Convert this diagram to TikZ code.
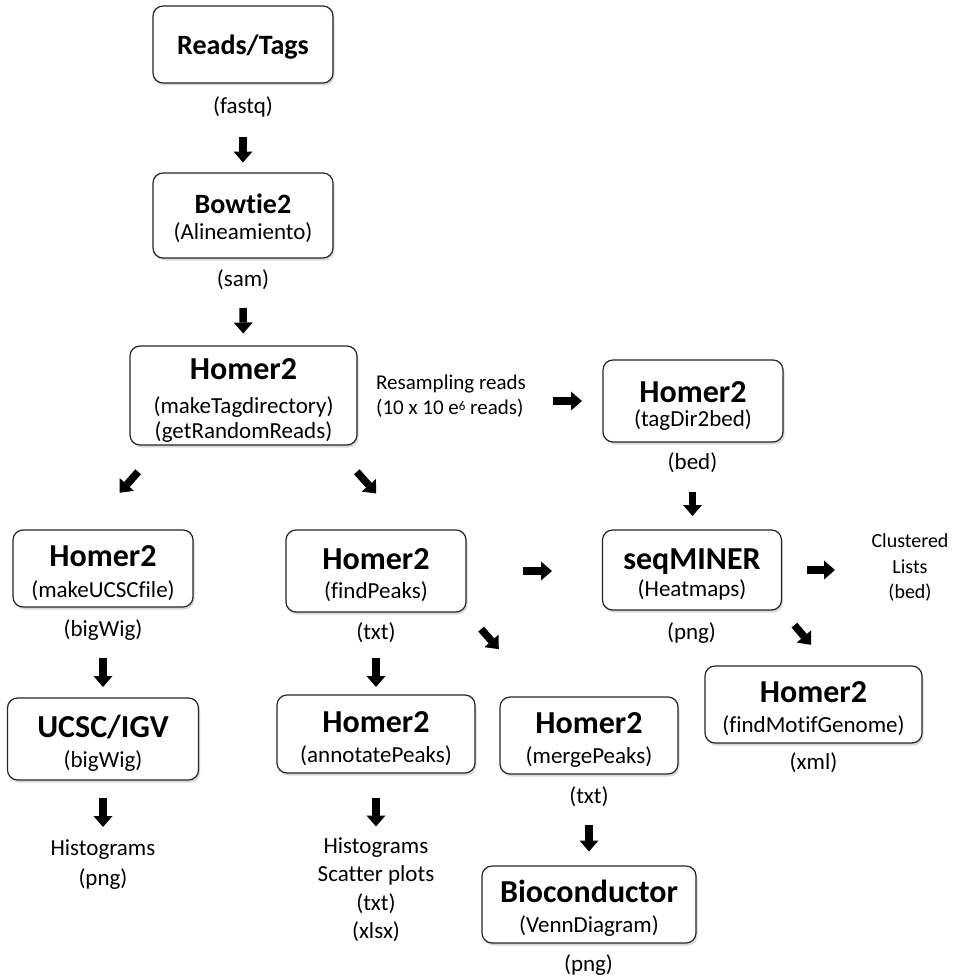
\documentclass[tikz,border=0pt]{standalone}
\usepackage{fontspec}
\setmainfont{Carlito}[Ligatures={NoCommon}]
\usetikzlibrary{arrows.meta, shadows}
\newcommand{\tooltitle}[1]{{\fontsize{32}{34}\selectfont\bfseries\rule{0pt}{30pt}#1}}
\newcommand{\inputtitle}[1]{{\fontsize{28}{30}\selectfont\bfseries\rule{0pt}{25pt}#1}}

\begin{document}
\begin{tikzpicture}[
    x=1pt, y=-1pt,
    % GLOBAL CFG
    font=\fontsize{23}{25}\selectfont,
    % Styles
    tool/.style={% rounded box for every program
        rectangle,
        rounded corners=10pt,
        draw=black!85,
        line width=1.2pt,
        fill=white,
        align=center,
        inner sep=0pt,
        drop shadow={shadow xshift=1.5pt, shadow yshift=-2.5pt, opacity=.3},
        },
    fmt/.style={% file formats and outputs, no frame
        align=center,
        inner sep=1pt,
        },
    flow/.style={% short fat arrows
        line width=7.5pt,
        -{Triangle[length=11pt, width=19pt, line width=0pt]},
        },
    ]
    \useasboundingbox (0,0) rectangle (955,979);

    % Reads and alignment
    \node[tool, minimum width=180pt, minimum height=77pt] (reads) at (243,44.5) {\inputtitle{Reads/Tags}};
    \node[fmt] (fastq) at (243,107) {(fastq)};
    \node[tool, minimum width=180pt, minimum height=85pt] (bowtie) at (243,215.5) {\inputtitle{Bowtie2}\\[1pt](Alineamiento)};
    \node[fmt] (sam) at (243,280) {(sam)};

    % Tag directory
    \node[tool, minimum width=227pt, minimum height=99pt] (homer) at (243.5,395.5) {\tooltitle{Homer2}\\[9pt](makeTagdirectory)\\(getRandomReads)};
    \node[fmt, align=left, font=\fontsize{21}{25}\selectfont] (resample) at (451,396) {Resampling reads\\(10 x 10 e{\raisebox{4pt}{\fontsize{13}{13}\selectfont 6}} reads)};

    % Right branch
    \node[tool, minimum width=180pt, minimum height=82pt] (tagdir) at (693,401) {\tooltitle{Homer2}\\[-1pt](tagDir2bed)};
    \node[fmt] (bed1) at (692.5,463) {(bed)};
    \node[tool, minimum width=179pt, minimum height=80pt] (seqminer) at (692,570) {\tooltitle{seqMINER}\\[2pt](Heatmaps)};
    \node[fmt] (png1) at (691.5,633) {(png)};
    \node[fmt, font=\fontsize{20}{25.5}\selectfont] (clustered) at (910,567.5) {Clustered\\Lists\\(bed)};
    \node[tool, minimum width=217pt, minimum height=77pt] (findmotif) at (813.5,704.5) {\tooltitle{Homer2}\\[5pt](findMotifGenome)};
    \node[fmt] (xml) at (813.5,763) {(xml)};

    % Left branch
    \node[tool, minimum width=180pt, minimum height=77pt] (ucscfile) at (103,568.5) {\tooltitle{Homer2}\\[6pt](makeUCSCfile)};
    \node[fmt] (bigwig1) at (103,630) {(bigWig)};
    \node[tool, minimum width=191pt, minimum height=82pt] (ucscigv) at (103,739) {\tooltitle{UCSC/IGV}\\[5pt](bigWig)};
    \node[fmt, font=\fontsize{23}{30}\selectfont] (histo1) at (103,865) {Histograms\\(png)};

    % Peaks
    \node[tool, minimum width=180pt, minimum height=82pt] (findpeaks) at (376,571) {\tooltitle{Homer2}\\[4pt](findPeaks)};
    \node[fmt] (txt1) at (376,633) {(txt)};
    \node[tool, minimum width=198pt, minimum height=78pt] (annotate) at (376,734) {\tooltitle{Homer2}\\[5pt](annotatePeaks)};
    \node[fmt, font=\fontsize{23}{28.5}\selectfont] (histo2) at (376,889.5) {Histograms\\Scatter plots\\(txt)\\(xlsx)};
    \node[tool, minimum width=178pt, minimum height=77pt] (mergepeaks) at (589,735.5) {\tooltitle{Homer2}\\[5pt](mergePeaks)};
    \node[fmt] (txt2) at (589,797) {(txt)};
    \node[tool, minimum width=214pt, minimum height=77pt] (bioc) at (589,904.5) {\tooltitle{Bioconductor}\\[5pt](VennDiagram)};
    \node[fmt] (png2) at (588.5,965) {(png)};

    % Arrows down the middle
    \draw[flow, shorten <=30pt, shorten >=53pt] (fastq.center) -- (bowtie.center);
    \draw[flow, shorten <=28pt, shorten >=62pt] (sam.center) -- (homer.center);
    \draw[flow, shorten <=102pt, shorten >=111pt] (resample.center |- tagdir.center) -- (tagdir.center);
    \draw[flow, shorten <=29pt, shorten >=54pt] (bed1.center) -- (bed1.center |- seqminer.center);
    \draw[flow, shorten <=115pt, shorten >=75pt] (seqminer.center) -- (seqminer.center -| clustered.center);
    \draw[flow, shorten <=19pt, shorten >=27pt] (seqminer.south east) -- ([xshift=15pt]findmotif.north);

    % Split after the tag directory
    \draw[flow, shorten <=35pt, shorten >=49pt] ([xshift=32pt]homer.south west) -- ([xshift=-16pt]ucscfile.north);
    \draw[flow, shorten <=35pt, shorten >=48pt] ([xshift=-24pt]homer.south east) -- ([xshift=32pt]findpeaks.north);
    \draw[flow, shorten <=28pt, shorten >=52pt] (bigwig1.center) -- (ucscigv.center);
    \draw[flow, shorten <=59pt, shorten >=38pt] (ucscigv.center) -- (histo1.center);

    % Peak outputs
    \draw[flow, shorten <=147pt, shorten >=140pt] (findpeaks.center) -- (findpeaks.center -| seqminer.center);
    \draw[flow, shorten <=22pt, shorten >=63pt] (findpeaks.south east) -- ([xshift=41pt]mergepeaks.north west);
    \draw[flow, shorten <=25pt, shorten >=47pt] (txt1.center) -- (annotate.center);
    \draw[flow, shorten <=64pt, shorten >=63pt] (annotate.center) -- (histo2.center);
    \draw[flow, shorten <=28pt, shorten >=53pt] (txt2.center) -- (bioc.center);

\end{tikzpicture}
\end{document}
